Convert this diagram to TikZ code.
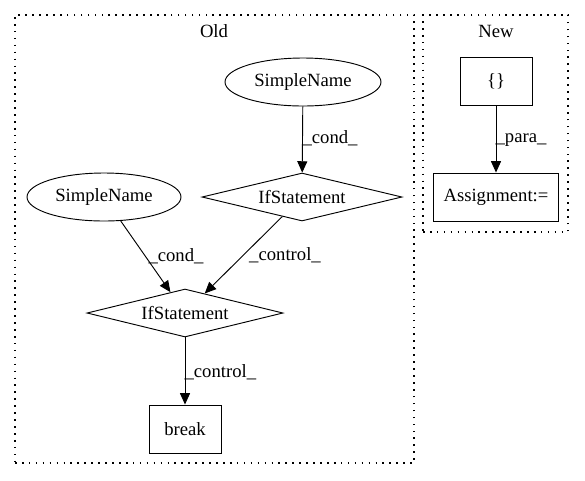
\documentclass[tikz,border=0pt]{standalone}
\usepackage{fontspec}
\setmainfont{Liberation Serif}
\usetikzlibrary{shapes.geometric,arrows.meta}
\begin{document}
\begin{tikzpicture}[x=0.75pt,y=-0.75pt,
  every node/.style={font=\fontsize{14}{16}\selectfont},
  cluster/.style={draw, line width=0.9pt, dash pattern=on 1.2pt off 4pt},
  ell/.style={draw, ellipse, line width=0.7pt, inner sep=0pt, minimum height=36pt},
  dia/.style={draw, diamond, line width=0.7pt, inner sep=0pt, minimum height=36pt},
  box/.style={draw, rectangle, line width=0.7pt, inner sep=0pt, minimum height=36pt},
  edge/.style={draw, line width=0.7pt, -{Triangle[length=8.5pt,width=7.5pt]}},
  elabel/.style={inner sep=1pt}
]
\useasboundingbox (0,0) rectangle (585,480);
% clusters
\node[cluster, minimum width=299.25pt, minimum height=336pt, inner sep=0pt] (old) at (214.5,239) {};
\node[cluster, minimum width=108.75pt, minimum height=162.75pt, inner sep=0pt] (new) at (495.5,123.5) {};
\node (oldlbl) at (214,31) {Old};
\node (newlbl) at (496,31) {New};
% nodes
\node[ell, minimum width=117pt] (sn1) at (303,82) {};
\node (sn1t) at (303,82) {SimpleName};
\node[dia, minimum width=150pt] (if1) at (302,197) {};
\node (if1t) at (302,197) {IfStatement};
\node[ell, minimum width=115.5pt] (sn2) at (104,197) {};
\node (sn2t) at (104,197) {SimpleName};
\node[dia, minimum width=147pt] (if2) at (185,313) {};
\node (if2t) at (185,313) {IfStatement};
\node[box, minimum width=54pt] (brk) at (185,429) {break};
\node[box, minimum width=54pt] (br) at (496,81) {\{\}};
\node[box, minimum width=94pt] (asg) at (496,197) {Assignment:=};
% edges
\path[edge] (sn1) -- (if1);
\node[elabel, anchor=west] (l1) at (301,138) {\_cond\_};
\path[edge] (sn2) -- (if2);
\node[elabel] (l2) at (176,256) {\_cond\_};
\path[edge] (if1) -- (if2);
\node[elabel] (l3) at (285,255) {\_control\_};
\path[edge] (if2) -- (brk);
\node[elabel, anchor=west] (l4) at (183,372) {\_control\_};
\path[edge] (br) -- (asg);
\node[elabel, anchor=west] (l5) at (494,140) {\_para\_};
\end{tikzpicture}
\end{document}
